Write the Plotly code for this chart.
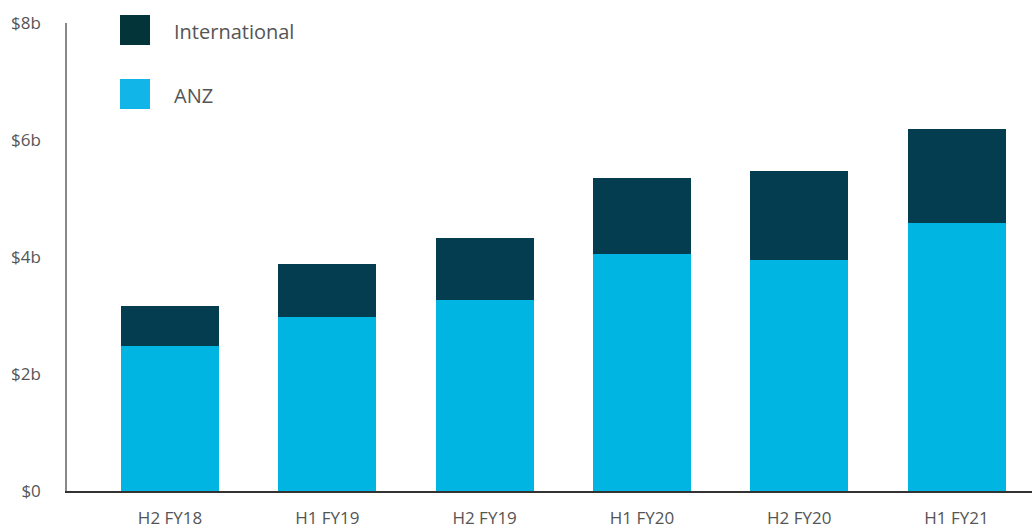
import plotly.graph_objects as go

periods = ["H2 FY18", "H1 FY19", "H2 FY19", "H1 FY20", "H2 FY20", "H1 FY21"]
anz = [2.48, 2.97, 3.26, 4.05, 3.95, 4.58]
international = [0.68, 0.91, 1.06, 1.30, 1.52, 1.61]
y_ticks = [0, 2, 4, 6, 8]
y_tick_labels = ["$0", "$2b", "$4b", "$6b", "$8b"]

ANZ_COLOR = "#00B5E2"
INTL_COLOR = "#043C50"
TEXT_COLOR = "#555555"
FONT = "Open Sans"

fig = go.Figure()
fig.add_trace(go.Bar(x=periods, y=anz, name="ANZ", marker_color=ANZ_COLOR,
                     marker_line_width=0, width=0.623))
fig.add_trace(go.Bar(x=periods, y=international, name="International",
                     marker_color=INTL_COLOR, marker_line_width=0, width=0.623))

# Legend drawn as swatches plus labels in the top-left corner
legend_items = [("International", "#02343A", 15), ("ANZ", "#12B5E8", 79)]
W, H = 1032, 529
T, B, L = 23, 38, 67
for label, color, top in legend_items:
    fig.add_shape(type="rect", xref="paper", yref="paper",
                  x0=(120 - L) / (W - L), x1=(150 - L) / (W - L),
                  y0=1 - (top - T) / (H - T - B), y1=1 - (top + 30 - T) / (H - T - B),
                  fillcolor=color, line_width=0, layer="above")
    fig.add_annotation(xref="paper", yref="paper",
                       x=(172 - L) / (W - L), y=1 - (top + 16 - T) / (H - T - B),
                       text=label, showarrow=False, xanchor="left", yanchor="middle",
                       font=dict(family=FONT, size=20, color=TEXT_COLOR))

fig.update_layout(
    barmode="stack",
    width=W, height=H,
    margin=dict(l=L, r=0, t=T, b=B),
    plot_bgcolor="white", paper_bgcolor="white",
    showlegend=False,
    font=dict(family=FONT, color=TEXT_COLOR),
    xaxis=dict(range=[-0.655, 5.48], showgrid=False, showline=True,
               linecolor="#333333", linewidth=1.5, ticks="", automargin=False,
               tickfont=dict(size=17, color=TEXT_COLOR), ticklabelstandoff=11),
    yaxis=dict(range=[0, 8], tickvals=y_ticks, ticktext=y_tick_labels,
               showgrid=False, zeroline=False, showline=True, automargin=False,
               linecolor="#888888", linewidth=1.5, ticks="",
               tickfont=dict(size=17, color=TEXT_COLOR), ticklabelstandoff=21),
)

fig.write_html("out.html")
